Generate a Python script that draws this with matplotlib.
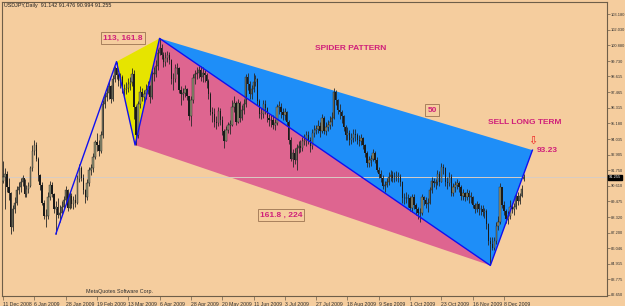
import matplotlib
matplotlib.use("Agg")
import matplotlib.pyplot as plt
import numpy as np

# USDJPY daily bars, 11 Dec 2008 .. 22 Dec 2009
closes = [
    91.3, 91.5, 90.5, 90.1, 87.6, 88.9, 89.4, 90.3, 90.5, 90.9,
    91.2, 90.0, 90.4, 90.6, 91.9, 93.2, 93.6, 92.6, 91.4, 90.7,
    89.4, 88.4, 88.4, 89.8, 90.7, 90.0, 88.9, 89.1, 88.5, 88.6,
    89.1, 89.6, 90.3, 89.0, 89.9, 89.3, 89.6, 89.4, 91.1, 91.9,
    91.2, 90.3, 89.8, 90.8, 91.8, 91.9, 92.7, 93.8, 93.6, 93.2,
    94.3, 96.6, 97.1, 97.4, 97.9, 97.0, 98.4, 99.2, 98.7, 98.3,
    98.6, 97.6, 97.7, 97.8, 98.1, 98.2, 98.8, 96.4, 94.3, 96.6,
    97.5, 97.1, 97.3, 97.6, 97.9, 97.1, 98.8, 98.8, 99.4, 100.3,
    100.7, 100.2, 99.7, 100.0, 100.2, 99.8, 98.4, 98.4, 99.2, 99.2,
    97.6, 97.3, 97.4, 97.7, 97.2, 95.7, 96.9, 98.5, 98.8, 98.9,
    99.1, 98.6, 98.9, 98.7, 98.3, 97.3, 96.0, 95.9, 95.3, 95.2,
    96.1, 95.4, 94.6, 93.9, 94.7, 95.1, 95.1, 96.4, 96.7, 95.3,
    96.7, 95.6, 96.2, 96.6, 98.6, 98.1, 97.3, 97.7, 98.2, 98.4,
    96.8, 95.9, 95.9, 96.6, 96.3, 95.6, 95.4, 95.4, 95.1, 95.2,
    96.4, 96.4, 96.0, 95.8, 96.0, 95.3, 94.0, 92.6, 93.0, 92.5,
    93.4, 93.5, 93.4, 93.9, 93.9, 94.3, 94.0, 93.5, 94.5, 94.7,
    94.8, 95.0, 94.6, 95.6, 94.6, 94.9, 95.1, 95.3, 95.6, 97.5,
    96.9, 96.2, 96.0, 95.7, 94.9, 94.3, 94.5, 94.0, 94.1, 94.4,
    94.3, 94.0, 93.9, 94.1, 93.6, 93.0, 92.3, 92.5, 92.6, 93.0,
    92.5, 91.8, 91.5, 91.2, 90.6, 90.7, 90.9, 91.3, 91.4, 91.2,
    91.3, 91.3, 91.3, 90.9, 89.7, 89.7, 89.7, 89.7, 89.0, 89.8,
    89.2, 88.9, 88.6, 88.6, 89.8, 89.6, 89.3, 89.4, 90.3, 91.0,
    90.8, 90.9, 91.5, 90.9, 92.0, 91.9, 90.9, 90.8, 91.3, 90.1,
    90.5, 90.7, 90.8, 90.5, 89.9, 90.1, 89.8, 90.1, 89.8, 89.8,
    89.2, 88.9, 89.3, 88.9, 88.9, 88.7, 88.8, 87.8, 86.6, 86.4,
    86.1, 86.6, 87.7, 88.0, 90.5, 89.2, 88.8, 88.2, 88.4, 89.1,
    88.9, 89.1, 89.9, 89.5, 89.9, 90.4, 91.255,
]
highs = [
    92.4, 91.9, 91.7, 91.2, 90.2, 89.2, 89.8, 90.6, 90.9, 91.2,
    91.4, 91.1, 90.7, 90.9, 92.1, 93.6, 94.0, 93.8, 92.7, 91.5,
    90.9, 89.6, 88.9, 90.2, 91.0, 90.9, 90.1, 89.5, 89.7, 89.2,
    89.5, 89.9, 90.6, 90.4, 90.2, 90.1, 89.9, 90.0, 91.4, 92.2,
    92.1, 91.5, 90.4, 91.1, 92.0, 92.2, 93.0, 94.0, 94.5, 94.0,
    94.6, 96.9, 97.4, 97.9, 98.3, 98.0, 98.7, 99.4, 99.7, 98.9,
    98.9, 98.7, 98.1, 98.2, 98.5, 98.6, 99.2, 99.1, 96.5, 96.8,
    97.9, 97.8, 97.6, 98.1, 98.3, 98.0, 99.1, 99.3, 99.8, 100.6,
    101.4, 101.0, 100.4, 100.4, 100.5, 100.4, 99.9, 98.9, 99.5, 99.6,
    99.3, 97.9, 97.8, 98.0, 97.8, 97.0, 97.2, 98.8, 99.1, 99.3,
    99.4, 99.4, 99.3, 99.1, 98.9, 98.4, 97.5, 96.4, 96.3, 95.7,
    96.4, 96.3, 95.7, 94.8, 95.0, 95.3, 95.4, 96.9, 97.2, 96.8,
    97.0, 96.8, 96.5, 97.0, 98.8, 98.9, 98.3, 98.0, 98.9, 98.7,
    98.5, 97.0, 96.3, 96.9, 96.9, 96.4, 95.9, 95.8, 95.8, 95.5,
    96.6, 96.8, 96.7, 96.3, 96.3, 96.1, 95.4, 94.2, 93.3, 93.4,
    93.7, 93.9, 94.0, 94.2, 94.4, 94.6, 94.6, 94.2, 94.8, 95.1,
    95.1, 95.4, 95.3, 95.9, 95.7, 95.3, 95.4, 95.7, 96.0, 97.8,
    97.6, 97.0, 96.6, 96.2, 95.8, 95.1, 94.9, 94.7, 94.5, 94.8,
    94.8, 94.5, 94.3, 94.4, 94.2, 93.7, 93.2, 92.8, 92.9, 93.3,
    93.2, 92.7, 92.0, 91.8, 91.4, 91.0, 91.2, 91.6, 91.8, 91.7,
    91.6, 91.7, 91.6, 91.5, 91.0, 90.1, 90.2, 90.0, 89.9, 90.0,
    90.0, 89.4, 89.1, 89.0, 90.0, 89.9, 89.8, 89.7, 90.5, 91.3,
    91.2, 91.1, 91.8, 91.7, 92.3, 92.2, 92.0, 91.3, 91.6, 91.5,
    90.8, 91.0, 91.1, 91.0, 90.7, 90.4, 90.2, 90.4, 90.3, 90.2,
    89.9, 89.4, 89.5, 89.4, 89.2, 89.2, 89.0, 88.9, 87.9, 86.9,
    86.9, 86.9, 88.0, 88.4, 90.8, 90.3, 89.5, 88.9, 88.8, 89.6,
    89.4, 89.4, 90.1, 90.2, 90.1, 90.7, 91.476,
]
lows = [
    90.8, 88.9, 90.2, 89.6, 87.1, 87.3, 88.6, 89.2, 90.0, 90.2,
    90.6, 89.8, 89.8, 90.1, 90.5, 91.7, 92.9, 92.4, 91.0, 90.3,
    89.2, 88.2, 87.6, 88.2, 89.6, 89.8, 88.6, 87.1, 88.3, 88.0,
    88.5, 88.9, 89.4, 88.8, 88.9, 89.0, 88.9, 89.1, 89.3, 90.9,
    91.0, 90.0, 89.4, 89.6, 90.6, 91.4, 91.6, 92.6, 93.2, 92.8,
    93.0, 94.1, 96.3, 96.8, 97.0, 96.7, 96.8, 98.2, 98.4, 97.9,
    97.8, 97.4, 97.2, 97.3, 97.5, 97.6, 97.9, 95.5, 93.6, 94.1,
    96.3, 96.8, 96.7, 97.0, 97.3, 96.7, 97.0, 98.3, 98.6, 99.1,
    100.2, 99.9, 99.3, 99.4, 99.7, 99.5, 98.1, 97.6, 98.2, 98.8,
    97.4, 96.5, 96.9, 97.1, 96.9, 95.4, 95.0, 96.7, 98.1, 98.4,
    98.5, 98.3, 98.2, 98.2, 97.8, 97.0, 95.8, 95.3, 94.9, 94.8,
    95.0, 95.1, 94.3, 93.4, 93.9, 94.5, 94.4, 95.0, 96.0, 95.1,
    95.2, 95.3, 95.4, 95.9, 96.4, 97.6, 97.0, 97.0, 97.5, 97.9,
    96.5, 95.6, 95.5, 95.6, 95.9, 95.3, 95.0, 94.9, 94.8, 94.7,
    95.1, 95.9, 95.6, 95.4, 95.4, 95.0, 93.7, 92.4, 92.0, 92.2,
    91.8, 93.0, 93.1, 93.2, 93.6, 93.5, 93.7, 93.1, 93.3, 94.2,
    94.4, 94.5, 94.2, 94.5, 94.4, 94.3, 94.6, 94.8, 95.0, 95.5,
    96.5, 95.9, 95.5, 95.2, 94.6, 94.0, 94.0, 93.6, 93.7, 93.8,
    93.9, 93.7, 93.5, 93.6, 93.3, 92.7, 92.0, 92.0, 92.1, 92.4,
    92.3, 91.6, 91.2, 90.9, 90.4, 90.2, 90.5, 90.7, 91.0, 90.9,
    90.9, 91.0, 90.9, 90.6, 89.4, 89.3, 89.4, 89.1, 88.8, 88.7,
    88.9, 88.5, 88.2, 88.0, 88.5, 89.2, 89.0, 88.7, 89.3, 90.1,
    90.5, 90.4, 90.7, 90.6, 90.9, 91.5, 90.6, 90.4, 90.6, 89.9,
    89.9, 90.2, 90.4, 90.2, 89.6, 89.6, 89.5, 89.6, 89.4, 89.4,
    89.0, 88.6, 88.7, 88.5, 88.5, 88.4, 88.3, 87.5, 86.3, 84.8,
    85.9, 85.9, 86.4, 87.4, 87.8, 89.0, 88.5, 87.9, 87.8, 88.2,
    88.6, 88.5, 88.9, 89.2, 89.3, 89.8, 90.994,
]
first_open = 91.0
last_open = 91.142

# zigzag points of the spider pattern (bar index, price)
pattern_idx = [27, 58, 67.5, 80, 249, 270.5]
pattern_px = [87.1, 99.7, 93.6, 101.4, 84.8, 93.23]

date_labels = ["11 Dec 2008", "6 Jan 2009", "28 Jan 2009", "19 Feb 2009", "13 Mar 2009",
               "6 Apr 2009", "28 Apr 2009", "20 May 2009", "11 Jun 2009", "3 Jul 2009",
               "27 Jul 2009", "18 Aug 2009", "9 Sep 2009", "1 Oct 2009", "23 Oct 2009",
               "16 Nov 2009", "8 Dec 2009"]
price_ticks = [103.180, 102.030, 100.880, 99.730, 98.615, 97.465, 96.315, 95.180, 94.035,
               92.905, 91.750, 90.610, 89.475, 88.320, 87.200, 86.046, 84.915, 83.775, 82.650]
current_price = 91.255

BG = '#F5CD9E'
TXT = '#D0207A'
FRAME = '#6E5E48'

W, H = 625, 306
fig = plt.figure(figsize=(W / 100, H / 100), dpi=100, facecolor=BG)
ax = fig.add_axes([2 / W, 1 - 296 / H, 605 / W, 294 / H], facecolor=BG)

ax.set_xlim(-0.5, 308.6)
ax.set_ylim(82.566, 104.06)

# pattern fills
A, B, C, D, E, F = list(zip(pattern_idx, pattern_px))
ax.fill([B[0], D[0], C[0]], [B[1], D[1], C[1]], color='#E6E400', lw=0, zorder=1)
ax.fill([D[0], C[0], E[0]], [D[1], C[1], E[1]], color='#DE6590', lw=0, zorder=1)
ax.fill([D[0], E[0], F[0]], [D[1], E[1], F[1]], color='#1E8EF8', lw=0, zorder=1)

# current price line
ax.axhline(current_price, color='#D8CCC4', lw=0.7, zorder=2)

# candles
n = len(closes)
idx = np.arange(n)
opens = np.array([first_open] + closes[:-1])
opens[-1] = last_open
cl = np.array(closes)
ax.vlines(idx, lows, highs, color='#262626', lw=0.6, zorder=3)
up = cl >= opens
body_lo = np.minimum(opens, cl)
body_h = np.maximum(np.abs(cl - opens), 0.05)
ax.bar(idx[up], body_h[up], bottom=body_lo[up], width=0.7, color='#8E8E70',
       edgecolor='#262626', linewidth=0.3, zorder=4)
ax.bar(idx[~up], body_h[~up], bottom=body_lo[~up], width=0.7, color='#1A1A1A',
       linewidth=0, zorder=4)

# zigzag lines
ax.plot(pattern_idx, pattern_px, color='#1010F0', lw=1.0, zorder=5)

# axes styling
for s in ax.spines.values():
    s.set_color(FRAME)
    s.set_linewidth(0.8)
ax.set_xticks(np.arange(len(date_labels)) * 16)
ax.set_xticklabels(date_labels, fontsize=3.7, color='#303030', ha='left',
                   family='Liberation Sans')
ax.tick_params(axis='x', length=3, width=0.5, color=FRAME, pad=1)
ax.yaxis.tick_right()
ax.set_yticks(price_ticks)
ax.set_yticklabels([f"{v:.3f}" for v in price_ticks], fontsize=2.9, color='#303030',
                   family='Liberation Sans')
ax.tick_params(axis='y', length=2.2, width=0.5, color=FRAME, pad=0.8)

ax.text(1.003, current_price, f"{current_price:.3f}", transform=ax.get_yaxis_transform(),
        fontsize=2.9, color='white', va='center', ha='left', family='Liberation Sans',
        bbox=dict(boxstyle='square,pad=0.15', facecolor='black', edgecolor='black'), zorder=6)


def ftext(x, y, s, **kw):
    # place text by pixel position (from top-left of image)
    fig.text(x / W, 1 - y / H, s, **kw)


bold = dict(color=TXT, fontweight='bold', family='Liberation Sans', fontsize=6,
            ha='center', va='center', zorder=10)
box = dict(boxstyle='square,pad=0.25', facecolor='none', edgecolor='#A8805C', lw=0.7)

ftext(4, 5, "USDJPY,Daily  91.142 91.476 90.994 91.255", fontsize=3.9, color='#202020',
      family='Liberation Sans', ha='left', va='center')
ftext(123, 38, "113, 161.8", bbox=box, **bold)
ftext(351, 48, "SPIDER PATTERN", **bold)
ftext(432, 110, "50", bbox=box, **bold)
ftext(525, 122, "SELL LONG TERM", **bold)
ftext(281, 215, "161.8 , 224", bbox=box, **bold)
ftext(547, 150, "93.23", **bold)
ftext(533, 141, "\u21e9", fontsize=8, color='#F02020', ha='center', va='center',
      family='DejaVu Sans')
ftext(86, 292, "MetaQuotes Software Corp.", fontsize=3.9, color='#303030',
      family='Liberation Sans', ha='left', va='center')

fig.savefig("out.png", dpi=100, facecolor=BG)
